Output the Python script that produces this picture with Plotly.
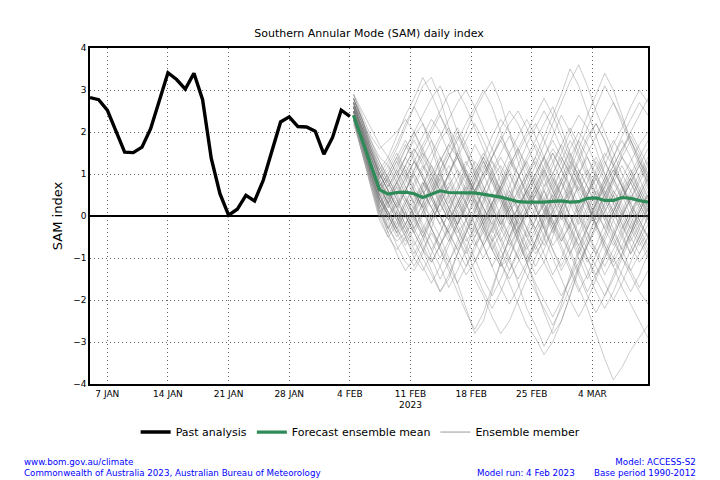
import pandas as pd
import plotly.graph_objects as go

# ---------------- data ----------------
past_start = "2023-01-05"
past_values = [2.82, 2.77, 2.52, 2.04, 1.52, 1.51, 1.64, 2.08, 2.75, 3.41,
               3.25, 3.02, 3.40, 2.77, 1.37, 0.53, 0.02, 0.16, 0.49, 0.36,
               0.85, 1.56, 2.24, 2.36, 2.13, 2.12, 2.02, 1.47, 1.87, 2.52, 2.37]

forecast_start = "2023-02-04 10:00"
mean_values = [2.40, 1.80, 1.20, 0.63, 0.52, 0.56, 0.57, 0.53, 0.44, 0.51,
               0.60, 0.56, 0.55, 0.55, 0.55, 0.52, 0.48, 0.45, 0.40, 0.34,
               0.33, 0.33, 0.33, 0.35, 0.36, 0.33, 0.34, 0.42, 0.43, 0.37,
               0.37, 0.44, 0.42, 0.37, 0.33]

ensemble_members = [
    [2.6,2.0,1.3,0.8,0.5,0.9,1.4,1.9,2.2,1.8,1.1,0.4,-0.2,-0.6,-0.3,0.3,0.9,1.2,0.8,0.1,-0.5,-0.9,-0.6,0.2,0.8,1.3,1.0,0.4,-0.1,0.3,0.9,1.4,1.1,0.6,0.2],
    [2.4,1.7,0.9,0.2,-0.3,-0.6,-0.4,0.1,0.7,1.3,1.8,2.1,1.7,1.0,0.4,-0.2,-0.8,-1.2,-1.0,-0.4,0.2,0.7,1.2,1.6,1.3,0.7,0.0,-0.6,-0.9,-0.5,0.1,0.6,0.9,0.5,0.0],
    [2.8,2.3,1.8,1.4,1.2,1.6,2.1,2.6,3.1,3.3,2.8,2.1,1.4,0.9,0.6,0.9,1.3,1.0,0.4,-0.3,-0.9,-1.4,-1.1,-0.5,0.2,0.8,1.4,1.9,2.2,1.8,1.2,0.7,0.3,0.6,1.0],
    [2.5,1.8,1.0,0.3,-0.2,-0.7,-1.1,-1.3,-0.9,-0.3,0.4,1.0,1.5,1.1,0.5,-0.1,-0.6,-0.3,0.3,0.9,1.4,1.8,2.2,2.6,2.1,1.5,0.9,0.3,-0.3,-0.8,-1.2,-0.9,-0.4,0.2,0.5],
    [2.7,2.1,1.5,1.0,0.8,0.4,0.0,-0.4,-0.8,-1.3,-1.8,-1.5,-0.9,-0.4,0.1,0.6,1.1,1.5,1.9,1.5,0.9,0.3,-0.2,-0.7,-0.4,0.2,0.8,1.1,0.7,0.1,-0.5,-1.0,-1.3,-0.9,-0.5],
    [2.3,1.6,0.8,0.1,0.3,0.8,1.2,0.9,0.4,-0.1,-0.5,-1.0,-1.6,-2.2,-2.8,-2.5,-1.8,-1.1,-0.5,0.0,0.5,0.2,-0.3,-0.8,-1.2,-0.7,-0.1,0.5,1.1,1.5,1.2,0.7,0.2,-0.2,-0.5],
    [2.9,2.4,1.9,1.6,1.8,2.0,2.3,2.0,1.5,1.0,0.6,1.0,1.5,2.0,2.5,2.9,3.2,2.7,2.0,1.3,0.7,0.2,-0.3,0.1,0.6,1.2,1.8,2.4,2.9,3.4,3.0,2.4,1.8,1.3,0.9],
    [2.5,1.9,1.2,0.6,0.0,-0.4,-0.2,0.3,0.8,0.5,0.0,-0.5,-1.0,-1.4,-1.1,-0.6,0.0,0.5,0.1,-0.5,-1.1,-1.7,-2.3,-2.8,-2.5,-1.9,-1.2,-0.6,0.0,0.6,0.3,-0.2,-0.7,-1.1,-0.8],
    [2.6,2.1,1.4,0.9,1.1,1.5,1.1,0.6,0.2,0.6,1.1,1.6,2.0,1.6,1.0,0.5,0.0,-0.5,-1.0,-1.6,-2.2,-2.6,-3.1,-2.7,-2.1,-1.4,-0.8,-0.2,0.3,0.8,1.2,1.6,1.9,1.5,1.0],
    [2.4,1.8,1.1,0.5,0.7,1.1,1.6,2.0,2.4,2.8,3.1,2.6,2.0,1.5,1.1,0.7,0.3,0.7,1.2,1.6,1.2,0.7,0.2,-0.3,-0.8,-1.3,-1.8,-1.4,-0.9,-0.4,0.1,0.6,1.0,1.4,1.8],
    [2.7,2.2,1.6,0.9,0.4,0.0,-0.5,-1.0,-1.3,-0.9,-0.4,0.1,0.6,0.3,-0.2,-0.7,-1.2,-1.7,-2.1,-1.7,-1.2,-0.6,0.0,0.6,1.1,1.6,2.0,1.7,1.2,0.8,0.4,0.0,-0.4,-0.1,0.3],
    [2.2,1.5,0.7,-0.1,-0.5,-0.2,0.3,0.8,1.2,0.9,0.4,0.0,-0.4,-0.1,0.5,1.1,1.6,2.1,2.5,2.2,1.7,1.2,0.7,1.0,1.5,2.0,2.4,2.1,1.6,1.0,0.5,0.1,-0.3,-0.7,-0.4],
    [2.6,2.0,1.3,0.7,0.2,0.6,1.0,1.5,1.9,2.3,2.0,1.5,1.0,0.5,0.9,1.4,1.9,2.3,2.0,1.6,1.1,0.7,0.3,-0.2,-0.7,-1.2,-1.7,-2.2,-2.8,-3.4,-3.9,-3.6,-3.2,-2.9,-2.6],
    [2.8,2.3,1.7,1.2,0.8,0.4,0.8,1.3,1.7,2.1,2.5,2.9,3.0,2.6,2.1,1.6,1.1,0.6,0.1,0.4,0.9,1.4,1.9,2.4,2.9,3.5,3.1,2.5,1.9,1.3,0.8,0.4,0.8,1.2,1.6],
    [2.5,1.8,1.0,0.2,-0.4,-0.9,-1.3,-1.0,-0.6,-0.1,0.3,0.7,1.1,0.8,0.3,-0.2,-0.6,-1.1,-1.6,-2.1,-2.6,-2.9,-3.3,-3.0,-2.5,-1.9,-1.3,-0.7,-0.2,0.2,0.6,0.3,-0.1,-0.5,-0.9],
    [2.4,1.9,1.4,1.0,1.3,1.7,2.2,2.6,2.2,1.6,1.0,0.5,0.1,-0.3,-0.7,-0.4,0.1,0.6,1.1,1.5,1.9,2.2,1.8,1.3,0.8,0.3,-0.2,0.2,0.7,1.2,1.7,2.1,2.6,3.0,2.7],
    [2.7,2.0,1.2,0.4,0.0,-0.3,0.1,0.5,0.2,-0.3,-0.8,-1.3,-1.8,-2.3,-2.7,-2.3,-1.7,-1.1,-0.5,0.1,0.6,1.0,0.6,0.1,-0.4,-0.9,-1.4,-1.9,-2.3,-1.9,-1.4,-0.9,-0.4,0.1,0.5],
    [2.3,1.7,1.1,0.6,0.9,1.3,0.9,0.5,0.1,0.5,1.0,1.4,1.8,2.2,2.6,3.0,2.6,2.0,1.4,0.8,0.3,-0.1,0.3,0.8,1.3,1.8,1.4,0.9,0.4,0.0,-0.4,-0.8,-0.4,0.1,0.6],
    [2.6,1.9,1.1,0.3,-0.3,0.1,0.6,1.1,1.5,1.2,0.7,0.2,-0.3,-0.8,-1.3,-1.8,-2.2,-1.8,-1.3,-0.8,-0.3,0.2,0.7,1.2,1.7,2.1,1.7,1.1,0.5,-0.1,-0.6,-1.0,-1.4,-1.8,-2.1],
    [2.9,2.5,2.1,1.7,1.4,1.9,2.4,2.8,3.3,2.9,2.4,1.9,1.4,1.0,0.6,0.2,-0.2,0.2,0.7,1.2,1.7,2.1,2.5,2.1,1.6,1.1,0.6,0.2,-0.2,0.1,0.5,0.9,1.3,1.7,2.0],
    [2.5,1.8,1.0,0.4,0.1,-0.3,-0.6,-0.2,0.3,0.8,1.3,1.7,1.4,0.9,0.4,-0.1,0.3,0.8,1.3,1.0,0.5,0.0,-0.5,-1.0,-1.5,-2.0,-2.4,-2.0,-1.5,-1.0,-0.5,0.0,0.5,0.3,-0.1],
    [2.4,1.6,0.8,0.0,-0.5,-0.8,-0.5,0.0,0.5,0.9,0.5,0.0,-0.5,-1.0,-1.5,-1.9,-2.4,-2.8,-2.5,-2.0,-1.5,-1.0,-0.5,0.0,0.4,0.0,-0.4,-0.8,-1.2,-1.6,-2.0,-1.6,-1.1,-0.6,-0.2],
    [2.7,2.2,1.6,1.1,0.7,1.0,1.4,1.0,0.6,0.2,-0.2,-0.6,-0.2,0.3,0.8,1.3,0.9,0.4,-0.1,-0.6,-1.1,-1.6,-2.0,-2.4,-2.0,-1.5,-0.9,-0.3,0.3,0.9,1.4,1.9,2.3,2.7,2.4],
    [2.6,2.0,1.4,0.8,0.3,-0.1,0.3,0.7,1.1,1.5,1.9,2.3,2.7,3.0,2.6,2.1,1.6,1.1,0.6,0.2,0.6,1.0,1.4,1.0,0.5,0.0,-0.5,-1.0,-1.4,-1.0,-0.5,0.0,0.4,0.8,1.2],
    [2.3,1.6,0.9,0.3,0.6,0.2,-0.2,-0.6,-1.0,-1.4,-1.8,-1.4,-0.9,-0.4,0.1,0.6,0.2,-0.2,-0.6,-1.0,-1.4,-1.8,-2.2,-2.6,-2.2,-1.7,-1.2,-0.7,-0.2,0.3,0.8,1.2,0.8,0.3,-0.1],
    [2.8,2.2,1.5,0.8,0.5,0.8,1.2,1.6,1.3,0.8,0.3,-0.1,0.3,0.7,1.1,1.5,1.1,0.6,0.1,-0.3,0.1,0.5,0.9,1.3,1.7,1.3,0.8,0.3,-0.2,-0.7,-1.1,-0.7,-0.2,0.3,0.7],
    [2.5,1.9,1.2,0.6,0.2,0.5,0.9,1.3,1.0,0.5,0.0,-0.4,-0.8,-1.2,-0.8,-0.3,0.2,0.7,1.2,1.6,2.0,2.4,2.8,2.4,1.9,1.4,0.9,0.4,0.0,0.4,0.9,1.4,1.8,1.4,0.9],
    [2.4,1.7,1.0,0.4,0.0,0.3,0.0,-0.4,-0.8,-1.1,-0.7,-0.2,0.3,0.8,1.3,1.0,0.5,0.0,-0.5,-1.0,-0.6,-0.1,0.4,0.9,0.5,0.0,-0.5,-1.0,-1.5,-1.9,-1.5,-1.0,-0.5,0.0,0.4],
    [2.7,2.1,1.5,1.0,0.6,0.2,0.6,1.0,1.4,1.8,1.4,0.9,0.4,0.0,-0.4,0.0,0.5,1.0,1.5,1.9,2.3,1.9,1.4,0.9,0.4,0.8,1.3,1.8,2.2,1.8,1.3,0.8,0.3,-0.1,-0.5],
    [2.6,1.9,1.1,0.4,-0.1,0.3,0.7,0.3,-0.2,-0.6,-1.0,-0.6,-0.1,0.4,0.9,1.3,0.9,0.4,-0.1,-0.6,-1.1,-0.7,-0.2,0.3,0.8,1.2,0.8,0.3,-0.2,-0.7,-1.2,-1.7,-2.1,-2.5,-2.9],
    [2.5,2.0,1.4,0.9,0.5,0.1,-0.3,0.1,0.5,0.9,1.3,1.7,2.1,1.7,1.2,0.7,0.2,-0.2,0.2,0.6,1.0,0.6,0.1,-0.4,0.0,0.5,1.0,1.5,1.9,2.3,2.7,2.3,1.8,1.3,0.8],
    [2.8,2.3,1.7,1.1,1.4,1.0,0.5,0.0,-0.4,0.0,0.4,0.8,0.4,-0.1,-0.6,-1.0,-0.6,-0.1,0.4,0.9,1.3,1.7,1.3,0.8,0.3,-0.2,-0.7,-0.3,0.2,0.7,1.1,0.7,0.2,-0.3,-0.7],
    [2.3,1.5,0.7,0.0,0.4,0.8,0.4,0.0,-0.4,-0.8,-0.4,0.1,0.6,1.1,0.7,0.2,-0.3,-0.8,-1.3,-0.9,-0.4,0.1,0.6,0.2,-0.3,-0.8,-1.3,-1.8,-1.4,-0.9,-0.4,0.1,0.6,1.0,1.4],
    [2.6,2.1,1.6,1.2,0.8,1.2,1.6,2.0,1.6,1.1,0.6,0.2,-0.2,0.2,0.6,1.0,1.4,1.8,2.2,2.5,2.1,1.6,1.1,0.6,0.1,-0.4,-0.9,-0.5,0.0,0.5,1.0,1.5,2.0,2.4,2.8],
    [2.5,1.8,1.1,0.5,0.1,-0.2,0.2,0.6,0.2,-0.3,-0.7,-0.3,0.2,0.6,0.2,-0.3,-0.8,-0.4,0.1,0.5,0.1,-0.4,-0.9,-1.4,-1.0,-0.5,0.0,0.5,1.0,0.6,0.1,-0.4,-0.9,-0.5,0.0],
    [2.7,2.0,1.3,0.7,1.0,1.4,1.8,1.4,0.9,0.4,0.8,1.2,0.8,0.3,-0.2,-0.7,-1.2,-0.8,-0.3,0.2,0.6,0.2,-0.3,-0.8,-1.3,-0.9,-0.4,0.1,0.6,0.2,-0.3,-0.8,-1.3,-1.7,-1.3],
    [2.4,1.8,1.2,0.7,0.3,-0.1,-0.5,-0.9,-0.5,0.0,0.5,1.0,1.4,1.8,2.2,1.8,1.3,0.8,0.3,-0.2,-0.7,-1.2,-0.8,-0.3,0.2,0.7,1.1,0.7,0.2,-0.3,0.1,0.5,0.9,0.5,0.1],
    [2.9,2.3,1.6,1.0,0.6,0.2,0.6,1.1,1.6,2.0,2.4,2.0,1.5,1.0,0.5,0.9,1.4,1.9,1.5,1.0,0.5,0.9,1.4,1.9,2.4,2.0,1.5,1.0,0.5,0.9,1.4,1.8,1.4,0.9,0.4],
    [2.5,1.9,1.3,0.7,0.3,0.0,-0.4,-0.8,-1.2,-1.6,-1.2,-0.7,-0.2,0.3,0.8,0.4,-0.1,-0.6,-1.1,-1.5,-1.1,-0.6,-0.1,0.4,0.9,1.4,1.8,1.4,0.9,0.4,-0.1,-0.5,-0.9,-0.5,0.0],
    [2.6,2.0,1.3,0.6,0.9,0.5,0.1,-0.3,0.1,0.5,0.9,0.5,0.0,-0.5,-1.0,-1.5,-1.9,-1.5,-1.0,-0.5,0.0,0.5,1.0,1.5,1.1,0.6,0.1,-0.4,-0.9,-1.4,-1.0,-0.5,0.0,0.5,0.9],
    [2.5,1.7,0.9,0.1,-0.4,-0.1,0.4,0.2,-0.3,-0.8,-1.2,-1.7,-1.3,-0.8,-0.2,0.4,0.9,0.5,0.0,-0.4,0.1,0.6,1.1,0.7,0.2,-0.3,-0.8,-1.3,-1.8,-2.2,-1.8,-1.3,-0.8,-0.3,0.2],
    [2.6,2.0,1.5,1.1,0.7,1.1,0.7,0.3,0.7,1.2,0.8,0.3,0.7,1.2,1.7,1.3,0.8,0.3,-0.2,0.2,0.7,1.2,1.7,2.2,2.7,3.2,3.6,3.1,2.5,2.0,1.5,1.0,0.6,0.2,-0.2],
    [2.4,1.7,1.0,0.3,-0.1,-0.5,-0.2,0.2,0.6,0.2,-0.2,0.2,0.6,1.0,0.6,0.1,-0.4,0.0,0.5,0.9,1.3,0.8,0.3,-0.2,0.2,0.6,0.2,-0.3,0.1,0.5,0.9,0.5,0.0,-0.4,-0.8],
    [2.7,2.1,1.4,0.8,0.4,0.8,0.4,0.0,-0.5,-1.0,-1.5,-1.1,-0.6,-0.1,0.4,0.0,-0.5,-1.0,-0.6,-0.1,0.4,0.9,0.4,-0.1,-0.6,-0.2,0.3,0.8,1.3,0.9,0.4,0.0,0.4,0.9,1.3],
    [2.3,1.6,0.9,0.2,0.5,0.0,-0.4,-0.1,0.3,0.7,1.1,1.5,1.1,0.6,1.0,1.4,1.0,0.5,0.0,-0.5,-1.0,-0.6,-0.1,0.4,0.0,-0.5,-1.0,-1.5,-1.1,-0.6,-0.1,0.4,0.9,1.3,1.0],
    [2.8,2.2,1.6,1.0,0.6,0.2,-0.2,0.2,0.6,1.0,1.4,1.0,0.5,0.1,-0.3,-0.7,-0.3,0.2,0.6,0.2,-0.3,-0.8,-0.4,0.1,0.6,1.1,1.6,2.1,2.6,3.1,2.7,2.2,1.7,1.2,0.7],
    [2.5,1.9,1.2,0.5,0.1,-0.3,-0.7,-0.3,0.1,-0.3,-0.7,-1.1,-0.7,-0.3,0.2,0.6,1.0,1.4,1.0,0.5,0.9,1.3,0.9,0.4,-0.1,0.3,0.7,0.3,-0.2,-0.6,-1.0,-1.4,-1.8,-1.4,-0.9],
    [2.6,2.0,1.4,0.9,1.2,0.8,1.2,1.6,1.2,0.7,0.3,-0.1,0.3,0.7,0.3,-0.2,0.2,0.6,1.0,0.6,0.1,-0.3,0.1,0.5,0.9,0.5,0.1,0.5,0.9,1.3,0.9,0.4,0.8,1.2,0.8],
    [2.4,1.8,1.1,0.5,0.0,0.4,0.0,-0.4,0.0,0.4,0.0,-0.4,-0.8,-0.4,0.0,-0.4,-0.8,-1.2,-0.8,-0.3,0.1,-0.3,-0.7,-0.3,0.1,-0.3,-0.7,-1.1,-0.7,-0.2,0.2,-0.2,-0.6,-0.2,0.2],
    [2.7,2.2,1.7,1.3,0.9,0.5,0.9,1.3,0.9,0.5,0.9,1.4,1.9,1.5,1.0,0.6,0.2,-0.2,0.2,0.6,1.0,1.4,1.0,0.6,0.2,0.6,1.0,1.4,1.0,0.5,0.0,0.4,0.8,0.4,0.0],
    [2.5,1.8,1.0,0.4,0.0,-0.4,-0.8,-1.2,-0.8,-0.4,-0.8,-1.2,-1.6,-1.2,-0.7,-0.2,0.3,-0.1,-0.5,-0.1,0.3,0.7,0.3,-0.1,-0.5,-0.9,-0.5,-0.1,0.3,0.7,1.1,0.7,0.3,-0.1,-0.5],
    [2.6,2.1,1.5,1.0,0.6,0.3,0.6,1.0,0.6,0.2,0.6,1.0,1.4,1.0,0.6,1.0,1.4,1.8,1.4,1.0,0.6,0.2,0.6,1.0,1.4,1.0,0.5,0.0,0.4,0.8,1.2,1.6,2.0,1.6,1.2],
    [2.3,1.5,0.8,0.1,-0.3,0.1,-0.3,-0.7,-0.3,0.1,0.5,0.1,-0.3,-0.7,-1.1,-0.7,-0.3,0.1,0.5,0.1,-0.3,-0.7,-1.1,-1.5,-1.9,-1.5,-1.1,-0.7,-0.3,0.1,0.5,0.1,-0.3,0.1,0.5],
    [2.8,2.3,1.8,1.3,0.9,1.3,1.7,1.3,0.9,0.5,0.1,0.5,0.9,1.3,0.9,0.5,0.1,-0.3,-0.7,-0.3,0.1,0.5,0.1,-0.3,0.1,0.5,0.9,0.5,0.1,-0.3,-0.7,-0.3,0.1,0.5,0.9],
    [2.5,1.9,1.3,0.7,0.3,0.7,1.1,0.7,0.3,-0.1,0.3,0.7,0.3,-0.1,-0.5,-0.1,0.3,0.7,1.1,0.7,0.3,0.7,1.1,1.5,1.1,0.7,0.3,-0.1,0.3,0.7,0.3,-0.1,-0.5,-0.9,-0.5],
    [2.4,1.7,1.0,0.4,0.0,-0.4,0.0,0.4,0.8,0.4,0.0,-0.4,0.0,0.4,0.8,1.2,0.8,0.4,0.0,-0.4,-0.8,-0.4,0.0,0.4,0.8,0.4,0.0,-0.4,-0.8,-1.2,-0.8,-0.4,0.0,0.4,0.8],
    [2.7,2.0,1.3,0.7,0.3,0.7,0.3,-0.1,-0.5,-0.1,0.3,-0.1,-0.5,-0.9,-0.5,-0.1,0.3,0.7,0.3,-0.1,-0.5,-0.1,0.3,0.7,1.1,1.5,1.1,0.7,0.3,-0.1,0.3,0.7,1.1,0.7,0.3],
    [2.6,2.1,1.5,1.0,0.6,1.0,1.4,1.8,1.4,1.0,0.6,0.2,-0.2,0.2,0.6,0.2,-0.2,-0.6,-0.2,0.2,0.6,1.0,1.4,1.8,1.4,1.0,0.6,1.0,1.4,1.0,0.6,0.2,-0.2,-0.6,-1.0],
    [2.5,1.8,1.1,0.5,0.1,-0.3,0.1,-0.3,-0.7,-1.1,-0.7,-0.3,0.1,0.5,0.1,-0.3,-0.7,-1.1,-1.5,-1.1,-0.7,-0.3,0.1,0.5,0.1,-0.3,0.1,0.5,0.9,0.5,0.1,-0.3,0.1,0.5,0.1],
    [2.4,1.8,1.2,0.7,1.0,1.4,1.0,0.6,0.2,0.6,1.0,0.6,0.2,0.6,1.0,1.4,1.0,0.6,0.2,-0.2,0.2,0.6,0.2,-0.2,-0.6,-0.2,0.2,0.6,1.0,1.4,1.8,1.4,1.0,0.6,0.2],
]

tick_dates = ["2023-01-07", "2023-01-14", "2023-01-21", "2023-01-28", "2023-02-04",
              "2023-02-11", "2023-02-18", "2023-02-25", "2023-03-04"]
tick_labels = ["7 JAN", "14 JAN", "21 JAN", "28 JAN", "4 FEB",
               "11 FEB<br>2023", "18 FEB", "25 FEB", "4 MAR"]
x_range = ["2023-01-05", "2023-03-10 10:00"]

# ---------------- figure ----------------
past_dates = pd.date_range(past_start, periods=len(past_values), freq="D")
fc_dates = pd.date_range(forecast_start, periods=len(mean_values), freq="D")

FONT = "DejaVu Sans, Verdana, sans-serif"
fig = go.Figure()

for member in ensemble_members:
    fig.add_trace(go.Scatter(
        x=fc_dates, y=member, mode="lines",
        line=dict(color="rgba(120,120,120,0.38)", width=1),
        name="Ensemble member", showlegend=False, hoverinfo="skip"))

fig.add_trace(go.Scatter(
    x=past_dates, y=past_values, mode="lines",
    line=dict(color="black", width=3.4),
    name="Past analysis", legendrank=1))

fig.add_trace(go.Scatter(
    x=fc_dates, y=mean_values, mode="lines",
    line=dict(color="#2e8b57", width=3.2),
    name="Forecast ensemble mean", legendrank=2))

# legend entry for the ensemble members
fig.add_trace(go.Scatter(
    x=[None], y=[None], mode="lines",
    line=dict(color="#999999", width=1),
    name="Ensemble member", legendrank=3))

grid = dict(showgrid=True, gridcolor="#666", griddash="1px,3px", gridwidth=1)

fig.update_layout(
    width=720, height=480,
    margin=dict(l=90, r=72, t=48, b=96),
    paper_bgcolor="white", plot_bgcolor="white",
    font=dict(family=FONT, color="black", size=9),
    title=dict(text="Southern Annular Mode (SAM) daily index",
               x=(369 / 720), xanchor="center", y=1 - 33 / 480, yanchor="middle",
               font=dict(size=11, family=FONT)),
    showlegend=True,
    legend=dict(orientation="h", x=0.485, xanchor="center", y=-0.143, yanchor="middle",
                font=dict(size=11, family=FONT), bgcolor="rgba(0,0,0,0)",
                itemwidth=30, tracegroupgap=0),
)

fig.update_xaxes(
    range=x_range, tickmode="array", tickvals=tick_dates, ticktext=tick_labels,
    showline=True, linecolor="black", linewidth=1.5, mirror=True,
    ticks="", tickfont=dict(size=9), zeroline=False, **grid)

fig.update_yaxes(
    range=[-4, 4], tickmode="array", tickvals=[-4, -3, -2, -1, 0, 1, 2, 3, 4],
    ticktext=["\u22124", "\u22123", "\u22122", "\u22121", "0", "1", "2", "3", "4"],
    showline=True, linecolor="black", linewidth=1.5, mirror=True,
    zeroline=True, zerolinecolor="black", zerolinewidth=1.5,
    ticks="", tickfont=dict(size=9), **grid,
    title=dict(text="SAM index", font=dict(size=13, family=FONT), standoff=8))

blue = "#0000ff"
foot = dict(size=8.7, family="DejaVu Sans, sans-serif", color=blue)
notes = [
    ("www.bom.gov.au/climate<br>Commonwealth of Australia 2023, Australian Bureau of Meteorology",
     22, 467.5, "left"),
    ("Model: ACCESS-S2<br>Base period 1990-2012", 698, 467.5, "right"),
    ("Model run: 4 Feb 2023", 577, 473, "right"),
]
for text, px, py, anchor in notes:
    fig.add_annotation(text=text, xref="paper", yref="paper",
                       x=(px - 90) / 558, y=(384 - py) / 336, align=anchor,
                       xanchor=anchor, yanchor="middle", showarrow=False, font=foot)

fig.write_html("out.html")
